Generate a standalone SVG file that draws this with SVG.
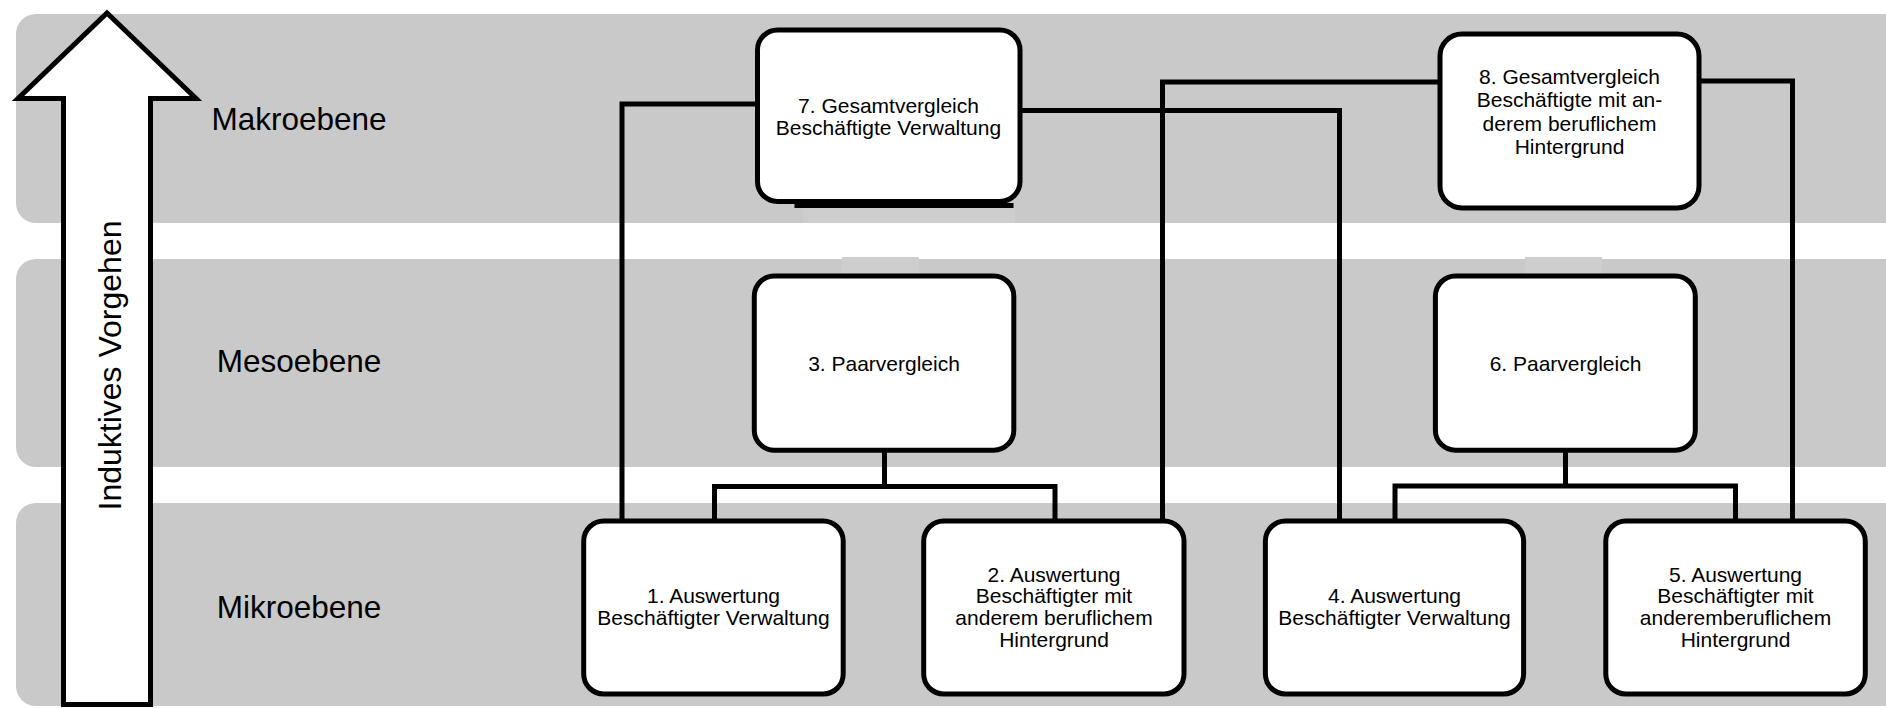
<svg xmlns="http://www.w3.org/2000/svg" width="1886" height="708" viewBox="0 0 1886 708">
<style>
.band{fill:#c9c9c9}
.patch{fill:#cecece}
.box{fill:#fff;stroke:#000;stroke-width:5}
.ln{fill:none;stroke:#000;stroke-width:5;stroke-linejoin:miter;stroke-linecap:square}
.t{font-family:"Liberation Sans",Arial,sans-serif;font-size:21px;fill:#000;text-anchor:middle}
.lvl{font-family:"Liberation Sans",Arial,sans-serif;font-size:31.5px;fill:#000;text-anchor:middle}
</style>
<rect width="1886" height="708" fill="#fff"/>
<g id="bands">
<rect class="band" x="16" y="14" width="1900" height="209" rx="20"/>
<rect class="band" x="16" y="259" width="1900" height="208" rx="20"/>
<rect class="band" x="16" y="503" width="1900" height="203" rx="20"/>
<rect class="patch" x="803" y="207" width="212" height="16"/>
<rect class="patch" x="842" y="257" width="77" height="18"/>
<rect class="patch" x="1525" y="257" width="77" height="18"/>
</g>
<g id="arrow">
<polygon points="107,13 196,98.5 150.5,98.5 150.5,704.5 63.5,704.5 63.5,98.5 18,98.5" fill="#fff" stroke="#000" stroke-width="5" stroke-linejoin="miter"/>
<text class="lvl" transform="translate(121,365.5) rotate(-90)" style="font-size:32px">Induktives Vorgehen</text>
</g>
<g id="levels">
<text class="lvl" x="299" y="129.5">Makroebene</text>
<text class="lvl" x="299" y="372">Mesoebene</text>
<text class="lvl" x="299" y="618">Mikroebene</text>
</g>
<g id="connectors">
<path class="ln" d="M622 521 V104 H757.5"/>
<path class="ln" d="M1020 110.5 H1339.5 V521"/>
<path class="ln" d="M1162.5 521 V82 H1440"/>
<path class="ln" d="M1699 81 H1792.5 V521"/>
<path class="ln" d="M884.5 450 V486.5 M714.5 521 V486.5 H1055 V521"/>
<path class="ln" d="M1565.5 450 V486 M1395 521 V486 H1735.5 V521"/>
<line class="ln" x1="797" y1="205.5" x2="1011" y2="205.5" stroke-linecap="butt"/>
</g>
<g id="n7">
<rect class="box" x="757.5" y="30" width="262.5" height="171.5" rx="20"/>
<text class="t" x="888.5" y="112.7">7. Gesamtvergleich</text>
<text class="t" x="888.5" y="135">Beschäftigte Verwaltung</text>
</g>
<g id="n8">
<rect class="box" x="1440" y="34" width="259" height="174" rx="22"/>
<text class="t" x="1569.5" y="83.5">8. Gesamtvergleich</text>
<text class="t" x="1569.5" y="107.2">Beschäftigte mit an-</text>
<text class="t" x="1569.5" y="130.8">derem beruflichem</text>
<text class="t" x="1569.5" y="154.4">Hintergrund</text>
</g>
<g id="n3">
<rect class="box" x="754.3" y="276" width="259.5" height="174.2" rx="20"/>
<text class="t" x="884" y="370.7">3. Paarvergleich</text>
</g>
<g id="n6">
<rect class="box" x="1435.4" y="276" width="259.9" height="174.2" rx="20"/>
<text class="t" x="1565.5" y="370.7">6. Paarvergleich</text>
</g>
<g id="n1">
<rect class="box" x="583.7" y="521" width="259.5" height="173" rx="20"/>
<text class="t" x="713.5" y="603.3">1. Auswertung</text>
<text class="t" x="713.5" y="625.3">Beschäftigter Verwaltung</text>
</g>
<g id="n2">
<rect class="box" x="923.7" y="521" width="260.3" height="173" rx="20"/>
<text class="t" x="1054" y="581.7">2. Auswertung</text>
<text class="t" x="1054" y="603.3">Beschäftigter mit</text>
<text class="t" x="1054" y="625">anderem beruflichem</text>
<text class="t" x="1054" y="646.8">Hintergrund</text>
</g>
<g id="n4">
<rect class="box" x="1265.4" y="521" width="258.2" height="173" rx="20"/>
<text class="t" x="1394.5" y="603.3">4. Auswertung</text>
<text class="t" x="1394.5" y="625.3">Beschäftigter Verwaltung</text>
</g>
<g id="n5">
<rect class="box" x="1605.8" y="521" width="259.5" height="173" rx="20"/>
<text class="t" x="1735.5" y="581.7">5. Auswertung</text>
<text class="t" x="1735.5" y="603.3">Beschäftigter mit</text>
<text class="t" x="1735.5" y="625">anderemberuflichem</text>
<text class="t" x="1735.5" y="646.8">Hintergrund</text>
</g>
</svg>
